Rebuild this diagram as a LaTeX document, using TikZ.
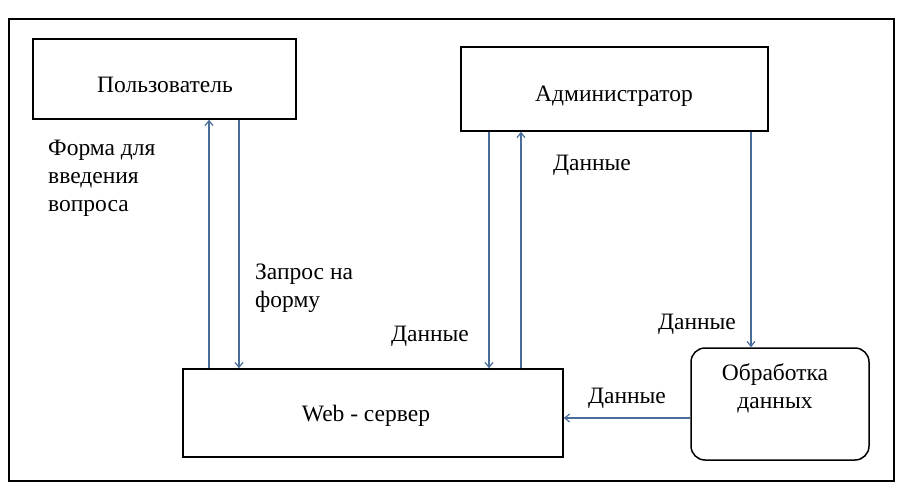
\documentclass[tikz,border=0pt]{standalone}
\usepackage{fontspec}
\setmainfont{Liberation Serif}
\newfontfamily\diagfont{Liberation Serif}
\usetikzlibrary{arrows.meta}
\definecolor{arrowblue}{HTML}{4A6C9B}
\begin{document}
\begin{tikzpicture}[x=1pt,y=-1pt,
  box/.style={draw=black,line width=1.5pt,inner sep=0pt,anchor=center},
  txt/.style={font=\diagfont\fontsize{23.5}{28}\selectfont,inner sep=0pt,text=black},
  lbl/.style={font=\diagfont\fontsize{23.5}{28}\selectfont,inner sep=0pt,text=black,align=left},
  arr/.style={draw=arrowblue,line width=1.2pt,-{Straight Barb[length=5pt,width=8pt]}}]
\useasboundingbox (0,0) rectangle (904,500);
\draw[line width=1.8pt] (9,19) rectangle (894,481);
% boxes
\node[box,minimum width=263pt,minimum height=80pt] (user) at (164.5,79) {};
\node[box,minimum width=307pt,minimum height=84pt] (admin) at (614.5,89) {};
\node[box,minimum width=380pt,minimum height=88pt] (web) at (373,413) {};
\node[box,rounded corners=14pt,minimum width=178pt,minimum height=112pt] (proc) at (780,404) {};
% box texts
\node[txt] (usertext) at (165,85) {Пользователь};
\node[txt] (admintext) at (614,96) {Администратор};
\node[txt] (webtext) at (366,416) {Web - сервер};
\node[txt,align=center] (proctext) at (775,388) {Обработка\\данных};
% connector x positions
\coordinate (c1) at (209,0);
\coordinate (c2) at (239,0);
\coordinate (c3) at (489,0);
\coordinate (c4) at (521,0);
\coordinate (c5) at (751,0);
\coordinate (c6) at (0,418);
\draw[arr] (c1 |- web.north) -- (c1 |- user.south);
\draw[arr] (c2 |- user.south) -- (c2 |- web.north);
\draw[arr] (c3 |- admin.south) -- (c3 |- web.north);
\draw[arr] (c4 |- web.north) -- (c4 |- admin.south);
\draw[arr] (c5 |- admin.south) -- (c5 |- proc.north);
\draw[arr] (proc.west |- c6) -- (web.east |- c6);
% labels
\node[lbl,anchor=west] (l1) at (48,178) {Форма для\\введения\\вопроса};
\node[lbl,anchor=west] (l2) at (255,288) {Запрос на\\форму};
\node[txt] (l3) at (592,165) {Данные};
\node[txt] (l4) at (430,336) {Данные};
\node[txt] (l5) at (697,324) {Данные};
\node[txt] (l6) at (627,398) {Данные};
\end{tikzpicture}
\end{document}
